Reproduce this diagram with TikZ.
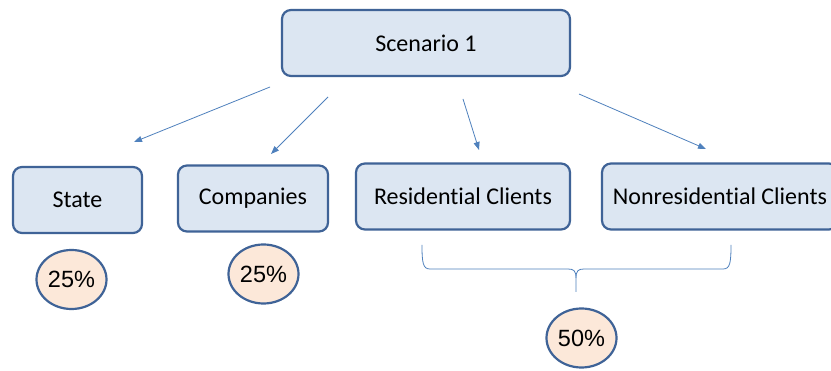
\documentclass[tikz,border=0pt]{standalone}
\usepackage{fontspec}
\setmainfont[Ligatures=NoCommon]{Carlito}
\newfontfamily\arialfont{Liberation Sans}
\usetikzlibrary{arrows.meta,shapes.geometric}
\definecolor{boxfill}{HTML}{DCE6F2}
\definecolor{boxline}{HTML}{3F6397}
\definecolor{circfill}{HTML}{FCE8D9}
\definecolor{arrowcol}{HTML}{4F81BD}
\tikzset{
  box/.style={draw=boxline, fill=boxfill, line width=2.2pt, rounded corners=9pt,
    minimum height=66pt, inner sep=0pt, font=\fontsize{24}{28}\selectfont},
  pct/.style={draw=boxline, fill=circfill, line width=2.2pt, ellipse,
    minimum width=70pt, minimum height=59pt, inner sep=0pt,
    font=\arialfont\fontsize{23.5}{27}\selectfont},
  conn/.style={draw=arrowcol, line width=0.8pt, -{Triangle[length=8pt,width=6pt]}},
  bracestyle/.style={draw=arrowcol, line width=0.8pt}
}
\begin{document}
\begin{tikzpicture}[x=1pt,y=-1pt]
\useasboundingbox (0,0) rectangle (831,371);
\clip (0,0) rectangle (831,371);
\fill[white] (0,0) rectangle (831,371);
\node[box, minimum width=288pt] (scen) at (426,43) {Scenario 1};
\node[box, minimum width=129pt] (state) at (77.5,200) {State};
\node[box, minimum width=150pt] (comp) at (253,198.5) {Companies};
\node[box, minimum width=214pt] (res) at (463,196.5) {Residential Clients};
\node[box, minimum width=236pt] (nonres) at (720,196.5) {Nonresidential Clients};
\node[pct] (p1) at (71.5,279.5) {25\%};
\node[pct] (p2) at (263.5,274) {25\%};
\node[pct] (p3) at (581.5,338) {50\%};
\coordinate (a1s) at (270,87);
\coordinate (a1e) at (134,142);
\coordinate (a2s) at (328,97);
\coordinate (a2e) at (271,154);
\coordinate (a3s) at (463,99);
\coordinate (a3e) at (479,150);
\coordinate (a4s) at (579,94);
\coordinate (a4e) at (706,149);
\draw[conn] (a1s) -- (a1e);
\draw[conn] (a2s) -- (a2e);
\draw[conn] (a3s) -- (a3e);
\draw[conn] (a4s) -- (a4e);
\coordinate (bl) at (422,245);
\coordinate (br) at (731,245);
\coordinate (bm) at (576,278);
\coordinate (btip) at (576,292);
\draw[bracestyle] (bl) .. controls (422,263) and (423,269) .. (430,269) -- (568,269) .. controls (574,269) and (576,271) .. (bm) -- (btip);
\draw[bracestyle] (br) .. controls (731,263) and (730,269) .. (723,269) -- (584,269) .. controls (578,269) and (576,271) .. (bm);
\end{tikzpicture}
\end{document}
